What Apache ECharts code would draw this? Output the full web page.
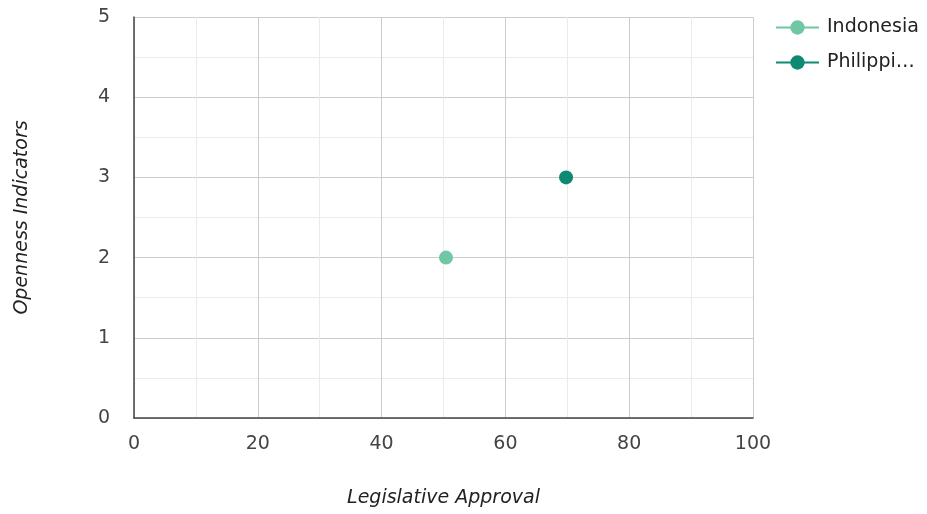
<!DOCTYPE html>
<html>
<head>
<meta charset="utf-8">
<script src="https://cdn.jsdelivr.net/npm/echarts@6/dist/echarts.min.js"></script>
<style>html,body{margin:0;padding:0;background:#fff}#c{width:927px;height:514px}</style>
</head>
<body>
<div id="c"></div>
<script>
const seriesNames = ["Indonesia", "Philippines"];
const legislativeApproval = [50.4, 69.8];
const opennessIndicators = [2, 3];
const colors = ["#6fc7a3", "#0e8a72"];
const xTicks = [0, 20, 40, 60, 80, 100];
const yTicks = [0, 1, 2, 3, 4, 5];

const chart = echarts.init(document.getElementById('c'));
const font = 'DejaVu Sans, sans-serif';
chart.setOption({
  animation: false,
  grid: {left: 134, right: 174, top: 17, bottom: 96},
  legend: {
    orient: 'vertical', left: 770, top: 13, itemGap: 16,
    itemWidth: 43, itemHeight: 18,
    textStyle: {fontFamily: font, fontSize: 19, color: '#222', width: 95, overflow: 'truncate', ellipsis: '…', padding: [0, 0, 0, 3]},
    data: seriesNames
  },
  xAxis: {
    type: 'value', min: xTicks[0], max: xTicks[xTicks.length - 1], interval: 20,
    name: 'Legislative Approval', nameLocation: 'middle', nameGap: 71,
    nameTextStyle: {fontFamily: font, fontSize: 19, fontStyle: 'italic', color: '#222'},
    axisLine: {show: true, lineStyle: {color: '#444', width: 1.5}},
    axisTick: {show: false},
    axisLabel: {fontFamily: font, fontSize: 19, color: '#444', margin: 17},
    splitLine: {show: true, lineStyle: {color: '#cccccc', width: 1}},
    minorTick: {show: false, splitNumber: 2},
    minorSplitLine: {show: true, lineStyle: {color: '#ebebeb', width: 1}}
  },
  yAxis: {
    type: 'value', min: yTicks[0], max: yTicks[yTicks.length - 1], interval: 1,
    name: 'Openness Indicators', nameLocation: 'middle', nameGap: 102,
    nameTextStyle: {fontFamily: font, fontSize: 19, fontStyle: 'italic', color: '#222'},
    axisLine: {show: true, lineStyle: {color: '#444', width: 1.5}},
    axisTick: {show: false},
    axisLabel: {fontFamily: font, fontSize: 19, color: '#444', margin: 24},
    splitLine: {show: true, lineStyle: {color: '#cccccc', width: 1}},
    minorTick: {show: false, splitNumber: 2},
    minorSplitLine: {show: true, lineStyle: {color: '#ebebeb', width: 1}}
  },
  series: seriesNames.map((n, i) => ({
    name: n, type: 'line', symbol: 'circle', symbolSize: 14, showSymbol: true,
    itemStyle: {color: colors[i]},
    lineStyle: {color: colors[i], width: 2},
    data: [[legislativeApproval[i], opennessIndicators[i]]]
  }))
});
</script>
</body>
</html>
